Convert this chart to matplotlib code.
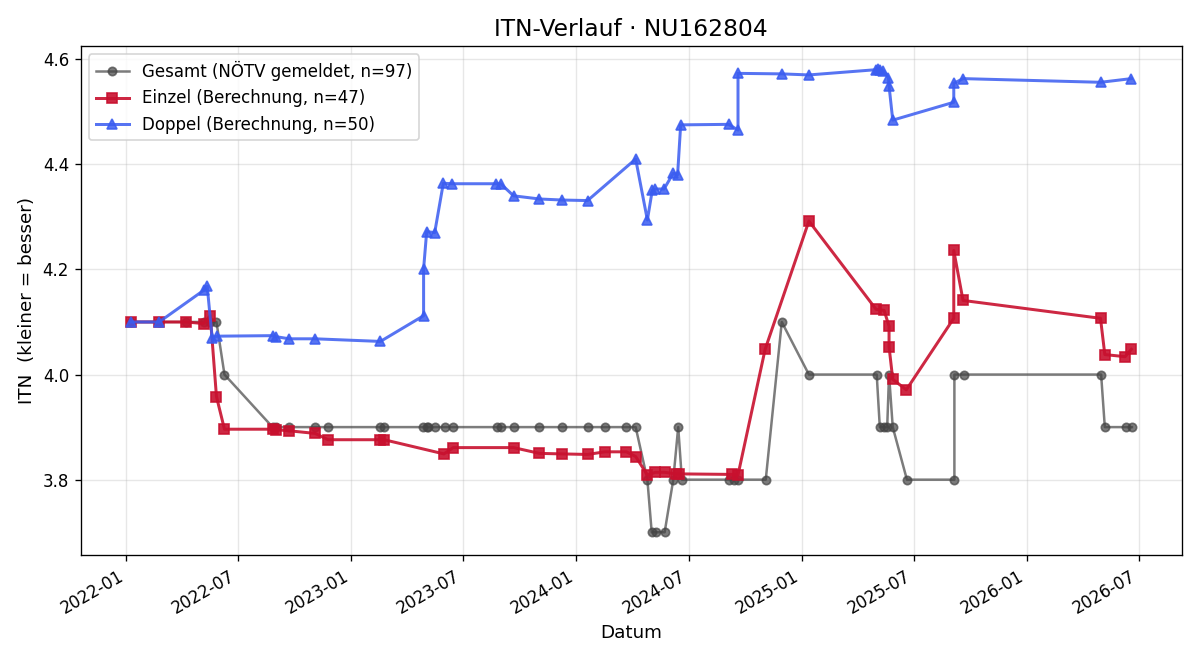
#!/usr/bin/env python3
"""ITN-Verlauf chart: Gesamt vs. Einzel vs. Doppel over time."""

import matplotlib
matplotlib.use("Agg")
import matplotlib.pyplot as plt
import matplotlib.dates as mdates
import pandas as pd

# Gesamt (NÖTV gemeldet)
gesamt_dates = [
    "2022-01-08", "2022-02-23", "2022-04-08", "2022-05-06", "2022-05-17", "2022-05-27",
    "2022-06-09", "2022-08-26", "2022-09-01", "2022-09-22", "2022-11-03", "2022-11-24",
    "2023-02-17", "2023-02-23", "2023-04-27", "2023-05-03", "2023-05-05", "2023-05-17",
    "2023-06-01", "2023-06-14", "2023-08-25", "2023-08-31", "2023-09-21", "2023-11-02",
    "2023-12-09", "2024-01-19", "2024-02-16", "2024-03-22", "2024-04-06", "2024-04-25",
    "2024-05-02", "2024-05-09", "2024-05-23", "2024-06-06", "2024-06-14", "2024-06-20",
    "2024-09-05", "2024-09-13", "2024-09-19", "2024-11-03", "2024-11-29", "2025-01-12",
    "2025-05-02", "2025-05-07", "2025-05-14", "2025-05-19", "2025-05-22", "2025-05-28",
    "2025-06-20", "2025-09-05", "2025-09-05", "2025-09-20", "2026-05-01", "2026-05-07",
    "2026-06-11", "2026-06-20",
]
gesamt_itn = [
    4.1, 4.1, 4.1, 4.1, 4.1, 4.1,
    4.0, 3.9, 3.9, 3.9, 3.9, 3.9,
    3.9, 3.9, 3.9, 3.9, 3.9, 3.9,
    3.9, 3.9, 3.9, 3.9, 3.9, 3.9,
    3.9, 3.9, 3.9, 3.9, 3.9, 3.8,
    3.7, 3.7, 3.7, 3.8, 3.9, 3.8,
    3.8, 3.8, 3.8, 3.8, 4.1, 4.0,
    4.0, 3.9, 3.9, 3.9, 4.0, 3.9,
    3.8, 3.8, 4.0, 4.0, 4.0, 3.9,
    3.9, 3.9,
]

# Einzel (Berechnung)
einzel_dates = [
    "2022-01-08", "2022-02-23", "2022-04-08", "2022-05-06", "2022-05-17", "2022-05-27",
    "2022-06-09", "2022-08-26", "2022-09-01", "2022-09-22", "2022-11-03", "2022-11-24",
    "2023-02-17", "2023-02-23", "2023-05-31", "2023-06-15", "2023-09-21", "2023-11-02",
    "2023-12-09", "2024-01-19", "2024-02-16", "2024-03-22", "2024-04-06", "2024-04-25",
    "2024-05-08", "2024-05-23", "2024-06-11", "2024-06-16", "2024-09-10", "2024-09-19",
    "2024-11-02", "2025-01-12", "2025-05-01", "2025-05-14", "2025-05-22", "2025-05-22",
    "2025-05-28", "2025-06-19", "2025-09-04", "2025-09-04", "2025-09-19", "2026-04-30",
    "2026-05-07", "2026-06-09", "2026-06-19",
]
einzel_itn = [
    4.100, 4.100, 4.100, 4.097, 4.112, 3.958,
    3.896, 3.896, 3.895, 3.893, 3.888, 3.876,
    3.876, 3.876, 3.849, 3.861, 3.861, 3.850,
    3.849, 3.848, 3.853, 3.853, 3.844, 3.809,
    3.814, 3.814, 3.811, 3.811, 3.810, 3.809,
    4.048, 4.292, 4.124, 4.122, 4.092, 4.053,
    3.991, 3.971, 4.107, 4.236, 4.141, 4.107,
    4.038, 4.034, 4.048,
]

# Doppel (Berechnung)
doppel_dates = [
    "2022-01-08", "2022-02-23", "2022-05-06", "2022-05-12", "2022-05-20", "2022-05-28",
    "2022-08-26", "2022-09-01", "2022-09-22", "2022-11-03", "2023-02-17", "2023-04-28",
    "2023-04-28", "2023-05-03", "2023-05-16", "2023-05-30", "2023-06-13", "2023-08-24",
    "2023-08-31", "2023-09-21", "2023-11-02", "2023-12-09", "2024-01-19", "2024-04-06",
    "2024-04-25", "2024-05-03", "2024-05-08", "2024-05-22", "2024-06-06", "2024-06-13",
    "2024-06-18", "2024-09-04", "2024-09-19", "2024-09-19", "2024-11-29", "2025-01-12",
    "2025-05-01", "2025-05-04", "2025-05-08", "2025-05-13", "2025-05-21", "2025-05-22",
    "2025-05-28", "2025-09-04", "2025-09-04", "2025-09-19", "2026-04-30", "2026-06-19",
]
doppel_itn = [
    4.100, 4.100, 4.160, 4.168, 4.070, 4.073,
    4.074, 4.072, 4.068, 4.068, 4.063, 4.112,
    4.201, 4.272, 4.270, 4.364, 4.363, 4.363,
    4.363, 4.340, 4.334, 4.332, 4.331, 4.410,
    4.294, 4.351, 4.353, 4.353, 4.383, 4.380,
    4.475, 4.476, 4.465, 4.573, 4.572, 4.570,
    4.580, 4.581, 4.579, 4.578, 4.565, 4.549,
    4.484, 4.518, 4.554, 4.563, 4.556, 4.563,
]

fig, ax = plt.subplots(figsize=(10, 5.5), dpi=120)

ax.plot(pd.to_datetime(gesamt_dates), gesamt_itn, color="#444444", alpha=0.7,
        linewidth=1.5, marker="o", markersize=5,
        label="Gesamt (NÖTV gemeldet, n=97)")
ax.plot(pd.to_datetime(einzel_dates), einzel_itn, color="#c8102e", alpha=0.9,
        linewidth=1.8, marker="s", markersize=6,
        label="Einzel (Berechnung, n=47)")
ax.plot(pd.to_datetime(doppel_dates), doppel_itn, color="#3a5cf0", alpha=0.85,
        linewidth=1.8, marker="^", markersize=6,
        label="Doppel (Berechnung, n=50)")

ax.set_title("ITN-Verlauf · NU162804", fontsize=14)
ax.set_xlabel("Datum", fontsize=11)
ax.set_ylabel("ITN  (kleiner = besser)", fontsize=11)
ax.grid(True, alpha=0.3)
ax.legend(loc="upper left", fontsize=10)

ax.xaxis.set_major_locator(mdates.MonthLocator(bymonth=[1, 7]))
ax.xaxis.set_major_formatter(mdates.DateFormatter("%Y-%m"))
fig.autofmt_xdate()

plt.tight_layout()
plt.savefig("out.png", dpi=120)
plt.close()
